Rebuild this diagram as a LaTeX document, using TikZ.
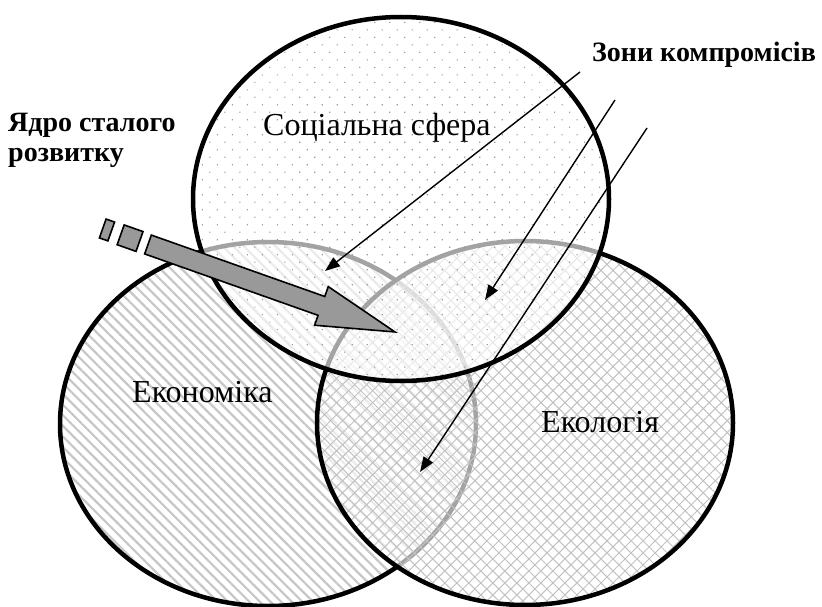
\documentclass[tikz,border=0pt]{standalone}
\usepackage{fontspec}
\setmainfont{Liberation Serif}
\usetikzlibrary{arrows.meta, positioning, shapes.geometric, patterns.meta}

\begin{document}
\begin{tikzpicture}[x=1pt, y=-1pt,
        sphere/.style={draw, ellipse, line width=4.5pt, minimum width=416pt, minimum height=364pt, inner sep=0pt},
        veil/.style={preaction={fill=white, fill opacity=.64}},
        lbl/.style={font=\fontsize{32}{38}\selectfont, anchor=base west, inner sep=0pt},
        blbl/.style={font=\fontsize{28}{30}\selectfont\bfseries, align=left, inner sep=0pt},
        zone/.style={-{Triangle[length=15pt, width=11pt]}, line width=1.4pt},
        block/.style={draw, fill=black!40, line width=1.6pt}]
    \useasboundingbox (0,0) rectangle (822,607);

    % the three spheres, bottom to top
    \node[sphere, pattern={Lines[angle=-45, distance=7.5pt, line width=2.2pt]}, pattern color=black!22] (econ) at (268,424) {};
    \node[sphere, veil, pattern={Hatch[angle=45, distance=8.5pt, line width=1pt]}, pattern color=black!24] (ecol) at (525,423) {};
    \node[sphere, veil, pattern={Dots[angle=45, distance=10.6pt, radius=0.8pt]}, pattern color=black!40] (soc) at (401,199) {};

    \node[lbl] (tsoc) at (263,136) {Соціальна сфера};
    \node[lbl] (tecon) at (132,402) {Економіка};
    \node[lbl] (tecol) at (541,432) {Екологія};

    \node[blbl, anchor=north west] (core) at (8,113) {Ядро сталого\\розвитку};
    \node[blbl, anchor=base west] (zones) at (592,62) {Зони компромісів};

    % core arrow
    \begin{scope}[shift={(148,244.5)}, rotate=-19.5]
        \draw[block] (-48,-10) rectangle (-39,10);
        \draw[block] (-29,-10.5) rectangle (-9,10.5);
        \draw[block] (0,-10) -- (184,-10) -- (184,-20.5) -- (262,0) -- (184,20.5) -- (184,10) -- (0,10) -- cycle;
    \end{scope}

    % compromise zones
    \coordinate (s1) at (580,72);
    \coordinate (s2) at (615,100);
    \coordinate (s3) at (647,128);
    \coordinate (t1) at (325,271);
    \coordinate (t2) at (485,300);
    \coordinate (t3) at (420,472);
    \foreach \i in {1,2,3}
        \draw[zone] (s\i) -- (t\i);
\end{tikzpicture}
\end{document}
